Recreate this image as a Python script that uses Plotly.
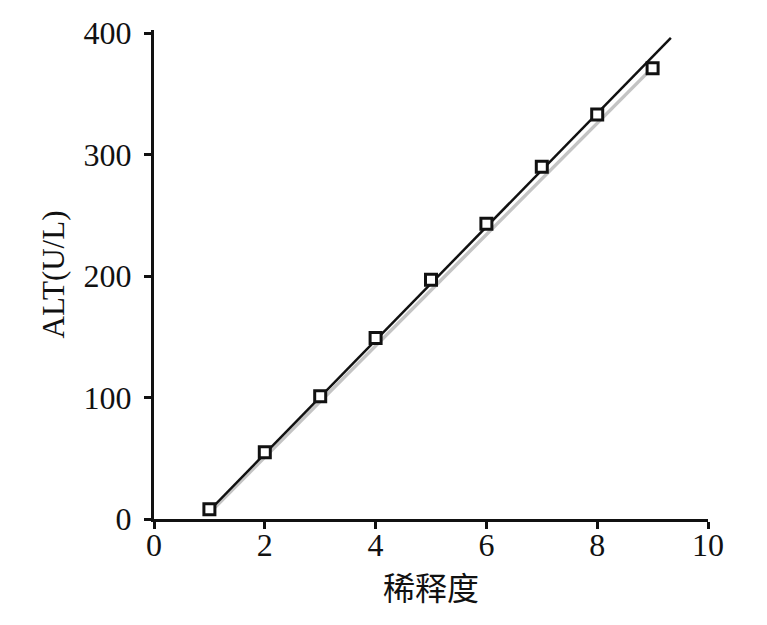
import plotly.graph_objects as go

# data
dilution = [1, 2, 3, 4, 5, 6, 7, 8, 9]
alt_values = [8, 55, 101, 149, 197, 243, 290, 333, 371]

# fitted lines (end points)
fit_black_x = [1, 9.33]
fit_black_y = [7, 396]
fit_gray_x = [1, 8.9]
fit_gray_y = [5, 367]

x_ticks = [0, 2, 4, 6, 8, 10]
y_ticks = [0, 100, 200, 300, 400]

serif = "Liberation Serif, Times New Roman, serif"

fig = go.Figure()
fig.add_trace(go.Scatter(x=fit_gray_x, y=fit_gray_y, mode="lines",
                         line=dict(color="#c4c4c4", width=3.5), showlegend=False))
fig.add_trace(go.Scatter(x=fit_black_x, y=fit_black_y, mode="lines",
                         line=dict(color="#111111", width=2.5), showlegend=False))
fig.add_trace(go.Scatter(x=dilution, y=alt_values, mode="markers",
                         marker=dict(symbol="square", size=11, color="white",
                                     line=dict(color="#111111", width=3)),
                         showlegend=False))

fig.update_layout(
    width=767, height=625,
    margin=dict(l=146, r=67, t=22, b=114),
    plot_bgcolor="white", paper_bgcolor="white",
    font=dict(family=serif, color="#111111", size=32),
    xaxis=dict(range=[0, 10], tickvals=x_ticks, ticks="outside", ticklen=7, tickwidth=3,
               tickcolor="#111111", showline=True, linewidth=3, linecolor="#111111",
               showgrid=False, zeroline=False, tickfont=dict(size=32, family=serif),
               ticklabelstandoff=-11, automargin=False,
               title=dict(text="稀释度", font=dict(family="Noto Sans CJK SC", size=32), standoff=0)),
    yaxis=dict(range=[0, 402.5], tickvals=y_ticks, ticks="outside", ticklen=7, tickwidth=3,
               tickcolor="#111111", showline=True, linewidth=3, linecolor="#111111",
               showgrid=False, zeroline=False, tickfont=dict(size=32, family=serif),
               ticklabelstandoff=6, automargin=False,
               title=dict(text="ALT(U/L)", font=dict(family=serif, size=31), standoff=10)),
)

fig.write_html("out.html")
